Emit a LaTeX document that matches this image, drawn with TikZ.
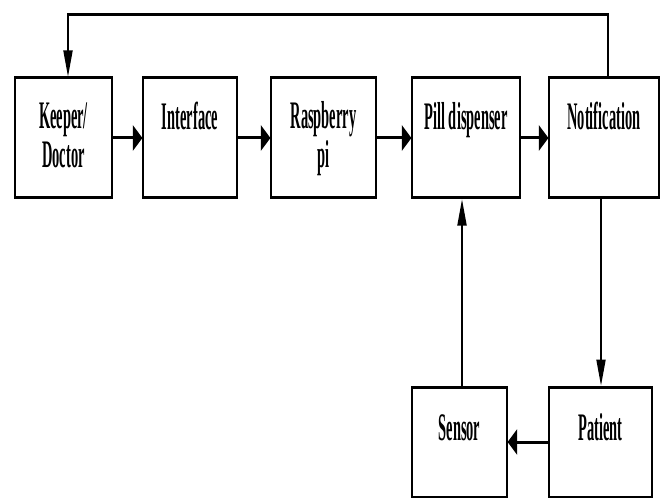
\documentclass[tikz,border=0pt]{standalone}
\usepackage{fontspec}
\setmainfont{Liberation Serif}
\usetikzlibrary{arrows.meta}

\begin{document}
\begin{tikzpicture}[x=1bp,y=-1bp]
  % page area and background
  \fill[white] (0,0) rectangle (665,498);
  \useasboundingbox (0,0) rectangle (665,498);

  % the whole block diagram is drawn in a horizontally condensed canvas
  \begin{scope}[overlay, transform canvas={xscale=0.37}, x=2.7027bp,
    box/.style={draw=black, line width=3bp, inner sep=0pt},
    toprow/.style={box, minimum height=120bp},
    botrow/.style={box, minimum height=110bp},
    lbl/.style={font=\fontsize{39bp}{39bp}\selectfont\bfseries,
                align=center, anchor=base, inner sep=0pt},
    link/.style={line width=3bp, draw=black},
    flow/.style={link, -{Triangle[length=26bp,width=25bp]}}]

    % blocks
    \node[toprow, minimum width=262.2bp] (keeper)    at (63.5,138) {};
    \node[toprow, minimum width=254.1bp] (interface) at (190,138)  {};
    \node[toprow, minimum width=283.8bp] (rpi)       at (323.5,138){};
    \node[toprow, minimum width=291.9bp] (pill)      at (466,138)  {};
    \node[toprow, minimum width=297.3bp] (notif)     at (604,138)  {};
    \node[botrow, minimum width=256.8bp] (sensor)    at (459.5,442){};
    \node[botrow, minimum width=278.4bp] (patient)   at (600.5,442){};

    % block captions (a two-line caption sits on its last line's baseline)
    \node[lbl] (keeperT)    at ([yshift=-91bp]keeper.north)    {Keeper/\\Doctor};
    \node[lbl] (interfaceT) at ([yshift=-53bp]interface.north) {Interface};
    \node[lbl] (rpiT)       at ([yshift=-91bp]rpi.north)       {Raspberry\\pi};
    \node[lbl] (pillT)      at ([yshift=-53bp]pill.north)      {Pill dispenser};
    \node[lbl] (notifT)     at ([yshift=-53bp]notif.north)     {Notification};
    \node[lbl] (sensorT)    at ([yshift=-55bp]sensor.north)    {Sensor};
    \node[lbl] (patientT)   at ([yshift=-55bp]patient.north)   {Patient};

    % routing points
    \coordinate (fbR) at (608,15);
    \coordinate (fbL) at (68,15);
    \coordinate (upx) at (462,0);
    \coordinate (dnx) at (601,0);

    % forward chain
    \draw[flow] (keeper) -- (interface);
    \draw[flow] (interface) -- (rpi);
    \draw[flow] (rpi) -- (pill);
    \draw[flow] (pill) -- (notif);

    % notification to patient, patient to sensor, sensor back to dispenser
    \draw[flow] (notif.south -| dnx) -- (patient.north -| dnx);
    \draw[flow] (patient) -- (sensor);
    \draw[flow] (sensor.north -| upx) -- (pill.south -| upx);

    % feedback from notification to keeper/doctor
    \draw[flow] (notif.north -| fbR) -- (fbR) -- (fbL) -- (keeper.north -| fbL);
  \end{scope}
\end{tikzpicture}
\end{document}
